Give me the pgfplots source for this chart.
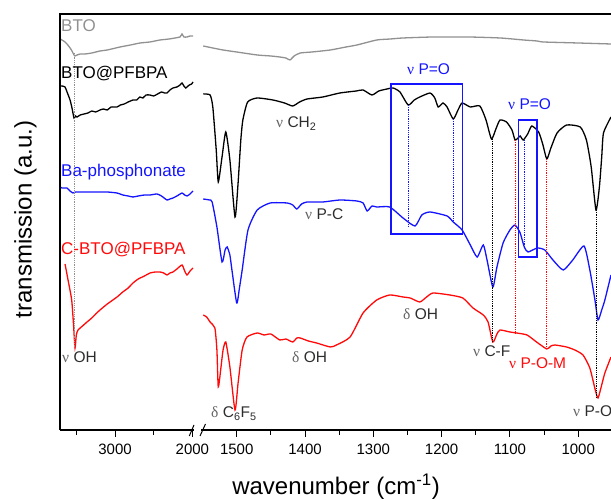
\documentclass[border=0pt]{standalone}
\usepackage{fontspec}
\setmainfont{Liberation Sans}
\newfontfamily\grk{Liberation Serif}
\usepackage{pgfplots}
\pgfplotsset{compat=1.18}
\definecolor{gcol}{RGB}{145,145,145}
\definecolor{bcol}{RGB}{20,20,255}
\definecolor{rcol}{RGB}{255,10,10}
\definecolor{tcol}{RGB}{45,45,45}
\definecolor{gkcol}{RGB}{100,100,100}
\newcommand{\nuu}{{\grk\color{gkcol}ν}}
\newcommand{\dl}{{\grk\color{gkcol}δ}}
\newcommand{\nub}{{\grk ν}}
\begin{document}
\begin{tikzpicture}[x=1pt,y=1pt]
\useasboundingbox (0,0) rectangle (611,500);
\clip (0,0) rectangle (611,500);
\pgfplotsset{
  brk/.style={
    scale only axis, height=416pt, ymin=70, ymax=486,
    at={(0,0)}, anchor=south west,
    x dir=reverse, axis x line*=bottom, axis y line=none,
    ytick=\empty, tick align=outside,
    major tick length=7pt, minor tick length=5pt,
    tick style={line width=1pt, black},
    axis line style={line width=1.2pt},
    tick label style={font=\fontsize{15}{15}\selectfont},
    xticklabel style={yshift=-3pt},
    /pgf/number format/assume math mode=true,
    /pgf/number format/1000 sep={},
    every axis plot/.append style={line width=1.3pt, smooth, tension=0.35}
  }
}
% ---------------- left segment ----------------
\begin{scope}[shift={(60pt,70pt)}]
\begin{axis}[brk, width=134pt,
  xmin=1979.3, xmax=3711,
  xtick={2000,3000}, minor xtick={2500,3500}]
\addplot[gcol] coordinates {(3710,461) (3685,460) (3646,458) (3620,456) (3581,452) (3556,449) (3530,445) (3517,444) (3490,445) (3450,446) (3388,446) (3300,447) (3194,449) (3100,450) (2935,453) (2800,455) (2677,457) (2550,458) (2419,460) (2300,461) (2225,462) (2160,463) (2134,466) (2110,463) (2070,463) (2030,464) (1992,464)};
\addplot[black] coordinates {(3710,414) (3685,414) (3646,413) (3620,408) (3581,400) (3556,392) (3530,382) (3510,384) (3491,383) (3450,385) (3400,386) (3350,387) (3300,389) (3250,388) (3194,390) (3150,391) (3100,390) (3050,393) (2974,393) (2930,395) (2880,396) (2830,398) (2768,400) (2720,400) (2680,403) (2640,402) (2600,405) (2548,405) (2500,404) (2450,406) (2400,408) (2360,407) (2328,407) (2290,410) (2251,412) (2200,413) (2160,415) (2134,417) (2110,414) (2085,412) (2070,413) (2040,415) (2010,416) (1992,418)};
\addplot[bcol] coordinates {(3710,313) (3685,312) (3646,312) (3620,312) (3581,309) (3543,307) (3510,308) (3452,308) (3350,308) (3194,308) (3100,308) (2974,307) (2900,305) (2830,304) (2768,303) (2700,304) (2620,305) (2548,305) (2457,306) (2400,304) (2328,300) (2290,301) (2251,302) (2200,304) (2134,307) (2100,305) (2070,304) (2030,306) (1992,309)};
\addplot[rcol] coordinates {(3646,236) (3607,220) (3560,200) (3536,175) (3517,152) (3500,165) (3478,170) (3420,174) (3362,178) (3300,182) (3250,186) (3194,190) (3100,196) (2974,203) (2900,208) (2830,212) (2768,217) (2700,221) (2620,224) (2548,227) (2480,228) (2419,228) (2370,227) (2328,225) (2290,227) (2251,228) (2200,231) (2134,235) (2100,229) (2070,225) (2030,229) (1992,232)};
\draw[gcol, densely dotted, line width=0.8pt] (axis cs:3530,447) -- (axis cs:3530,152);
\end{axis}
\end{scope}
% ---------------- right segment ----------------
\begin{scope}[shift={(201pt,70pt)}]
\begin{axis}[brk, width=410pt,
  xmin=952, xmax=1552.3,
  xtick={1000,1100,1200,1300,1400,1500}, minor xtick={1050,1150,1250,1350,1450}]
\addplot[gcol] coordinates {(1549,454) (1535,452) (1520,450) (1500,448) (1470,445) (1450,444) (1437,443) (1428,442) (1422,440) (1416,444) (1407,447) (1390,448) (1363,450) (1340,453) (1324,455) (1295,460) (1275,461) (1257,462) (1213,463) (1160,463) (1114,462) (1080,460) (1060,459) (1051,458) (1000,457) (952,456)};
\addplot[black] coordinates {(1549,406) (1539,405) (1535,393) (1530,350) (1527,318) (1521.5,343) (1516,368) (1510,340) (1502.5,283) (1498,317) (1494,360) (1491,380) (1484,398) (1470,402) (1447,400) (1430,397) (1418,394) (1408,398) (1397,401) (1374,403) (1349,407) (1325,409) (1315,410) (1302,405) (1292,409) (1280,411) (1271,412) (1261,408) (1249,395) (1240,400) (1232,403) (1217,407) (1210,402) (1205,393) (1198,397) (1192,393) (1183,381) (1176,390) (1170,397) (1158,393) (1144,394) (1135,380) (1127,361) (1120,372) (1114.5,380) (1105,378) (1097,370) (1092.5,360) (1088,362) (1085,364) (1080.5,360) (1074,366) (1068,374) (1058,368) (1052,356) (1046,341) (1040,352) (1031,367) (1017,375) (997,373) (988,360) (981,333) (974,290) (969,313) (965.6,343) (963,367) (952,383)};
\addplot[bcol] coordinates {(1549,301) (1540,300) (1536,298) (1529,273) (1521.5,238) (1517,250) (1514,253) (1510,245) (1507,230) (1500,197) (1496,212) (1492,230) (1483.5,270) (1470,290) (1451,297) (1426,297) (1418,295) (1412,291) (1405,296) (1397,298) (1374,298) (1349,300) (1324,299) (1315,297) (1309,289) (1302,294) (1295,293) (1276,293) (1256.5,282) (1239,274) (1229,285) (1217,288) (1192,284) (1183,278) (1170,270) (1158,255) (1148,243) (1139,255) (1133.5,240) (1125,213) (1119,233) (1110,257) (1100,270) (1092.5,275) (1085,267) (1079,253) (1073.5,248) (1060,252) (1049,250) (1037,240) (1022,230) (1008,240) (991.5,254) (983,230) (975.5,200) (971,180) (965.6,190) (961,200) (952,225)};
\addplot[rcol] coordinates {(1549,185) (1544,183) (1539,178) (1532,172) (1529,150) (1527,113) (1523,133) (1520,150) (1516,158) (1510,133) (1502.5,90) (1498,117) (1492,150) (1485,163) (1470,167) (1460,165) (1450,166) (1437,160) (1428,161) (1418,158) (1412,162) (1407,162) (1395,159) (1383,157) (1363,153) (1354,155) (1334,163) (1315,187) (1295,200) (1276,205) (1256.5,203) (1246,202) (1232,198) (1222,203) (1212.6,207) (1188,205) (1169,202) (1154,192) (1139,185) (1132,178) (1125,158) (1119,166) (1114.5,170) (1100,168) (1090,167) (1075,165) (1061,158) (1046,151) (1040,154) (1034,155) (1017,153) (1005,150) (993,145) (983,132) (975,110) (971,102) (966,114) (961,127) (952,143)};
% dotted guide lines
\draw[black, densely dotted, line width=0.8pt] (axis cs:1126,361) -- (axis cs:1126,158);
\draw[black, densely dotted, line width=0.8pt] (axis cs:974,290) -- (axis cs:974,102);
\draw[rcol, densely dotted, line width=0.8pt] (axis cs:1092.5,360) -- (axis cs:1092.5,167);
\draw[rcol, densely dotted, line width=0.8pt] (axis cs:1046,341) -- (axis cs:1046,151);
\draw[bcol, densely dotted, line width=0.8pt] (axis cs:1249,395) -- (axis cs:1249,274);
\draw[bcol, densely dotted, line width=0.8pt] (axis cs:1183,381) -- (axis cs:1183,278);
\draw[bcol, densely dotted, line width=0.8pt] (axis cs:1079,360) -- (axis cs:1079,253);
% boxes
\draw[bcol, line width=1.2pt] (axis cs:1274,416) rectangle (axis cs:1170,266);
\draw[bcol, line width=1.2pt] (axis cs:1087,380) rectangle (axis cs:1060.3,243);
\end{axis}
\end{scope}
% frame: top, left, and axis break
\draw[line width=1.2pt] (60,70) -- (60,486) -- (611,486);
\draw[line width=1pt] (189.3,64) -- (194,75);
\draw[line width=1pt] (200,64) -- (205.5,76);
% series labels
\begin{scope}[every node/.style={inner sep=0pt, anchor=base west, font=\fontsize{17}{17}\selectfont}]
\node[text=gcol] at (61,468) {BTO};
\node[text=black] at (61,421) {BTO@PFBPA};
\node[text=bcol] at (61,323) {Ba-phosphonate};
\node[text=rcol] at (61,245) {C-BTO@PFBPA};
\end{scope}
% band annotations
\begin{scope}[every node/.style={inner sep=0pt, anchor=base west, font=\fontsize{15.5}{15.5}\selectfont, text=tcol}]
\node at (62,137) {\nuu{} OH};
\node at (276,372) {\nuu{} CH\textsubscript{2}};
\node at (305,280) {\nuu{} P-C};
\node at (292,137) {\dl{} OH};
\node at (403,180) {\dl{} OH};
\node at (211,82) {\dl{} C\textsubscript{6}F\textsubscript{5}};
\node at (473,143) {\nuu{} C-F};
\node[text=rcol] at (509,131) {\nub{} P-O-M};
\node at (573,83) {\nuu{} P-O};
\node[text=bcol] at (407,425) {\nub{} P=O};
\node[text=bcol] at (508,390) {\nub{} P=O};
\end{scope}
% axis titles
\node[inner sep=0pt, anchor=base, rotate=90, font=\fontsize{24}{24}\selectfont] at (31.5,280.5) {transmission (a.u.)};
\node[inner sep=0pt, anchor=base, font=\fontsize{24}{24}\selectfont] at (336,5) {wavenumber (cm\textsuperscript{-1})};
\end{tikzpicture}
\end{document}
